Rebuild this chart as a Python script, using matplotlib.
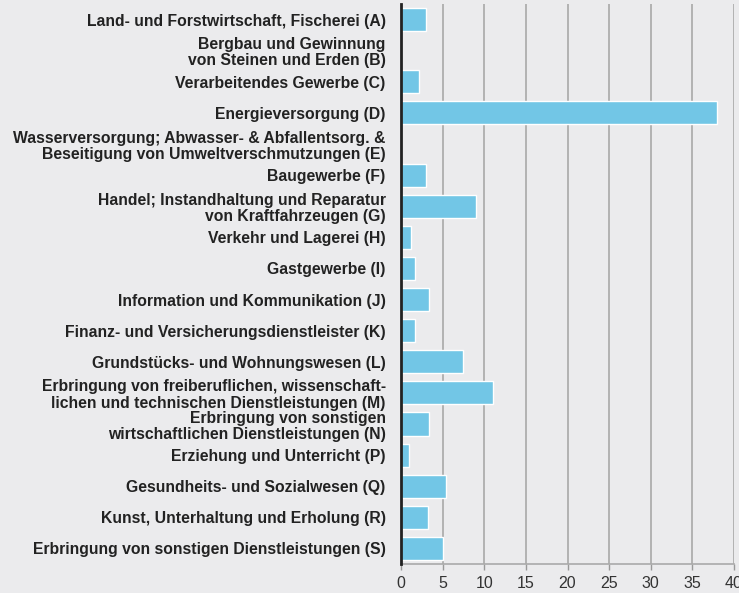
import numpy as np
import matplotlib.pyplot as plt

labels = [
    "Land- und Forstwirtschaft, Fischerei (A)",
    "Bergbau und Gewinnung\nvon Steinen und Erden (B)",
    "Verarbeitendes Gewerbe (C)",
    "Energieversorgung (D)",
    "Wasserversorgung; Abwasser- & Abfallentsorg. &\nBeseitigung von Umweltverschmutzungen (E)",
    "Baugewerbe (F)",
    "Handel; Instandhaltung und Reparatur\nvon Kraftfahrzeugen (G)",
    "Verkehr und Lagerei (H)",
    "Gastgewerbe (I)",
    "Information und Kommunikation (J)",
    "Finanz- und Versicherungsdienstleister (K)",
    "Grundstücks- und Wohnungswesen (L)",
    "Erbringung von freiberuflichen, wissenschaft-\nlichen und technischen Dienstleistungen (M)",
    "Erbringung von sonstigen\nwirtschaftlichen Dienstleistungen (N)",
    "Erziehung und Unterricht (P)",
    "Gesundheits- und Sozialwesen (Q)",
    "Kunst, Unterhaltung und Erholung (R)",
    "Erbringung von sonstigen Dienstleistungen (S)",
]
values = [3.0, 0, 2.2, 37.9, 0, 3.0, 9.0, 1.2, 1.7, 3.4, 1.7, 7.4, 11.0, 3.4, 1.0, 5.4, 3.2, 5.0]
xticks = [0, 5, 10, 15, 20, 25, 30, 35, 40]

bg = '#EBEBED'
plt.rcParams['font.family'] = ['Liberation Sans', 'DejaVu Sans']

fig = plt.figure(figsize=(7.39, 5.93), dpi=100, facecolor=bg)
ax = fig.add_axes([401 / 739, 1 - 564 / 593, 333 / 739, 560 / 593])
ax.set_facecolor(bg)

y = np.arange(len(labels))
ax.barh(y, values, height=0.74, color='#72C6E6', edgecolor='white', linewidth=1, zorder=2)

ax.set_xlim(0, 40)
ax.set_ylim(len(labels) - 0.5, -0.5)
ax.set_xticks(xticks)
ax.set_xticklabels([str(t) for t in xticks], fontsize=11.5, color='#333333')
ax.set_yticks(y)
ax.set_yticklabels(labels, fontsize=11.3, fontweight='bold', color='#222222', linespacing=1.1)
ax.tick_params(axis='y', length=0, pad=11)
ax.tick_params(axis='x', length=4, color='#999999', width=1, pad=5)

for t in xticks[1:]:
    ax.axvline(t, color='#A8A8A8', linewidth=1.2, zorder=1)

for s in ['top', 'right']:
    ax.spines[s].set_visible(False)
ax.spines['bottom'].set_color('#AAAAAA')
ax.spines['bottom'].set_linewidth(1.2)
ax.spines['left'].set_color('#222222')
ax.spines['left'].set_linewidth(2)
ax.spines['left'].set_zorder(3)

fig.savefig('out.png', dpi=100, facecolor=bg)
